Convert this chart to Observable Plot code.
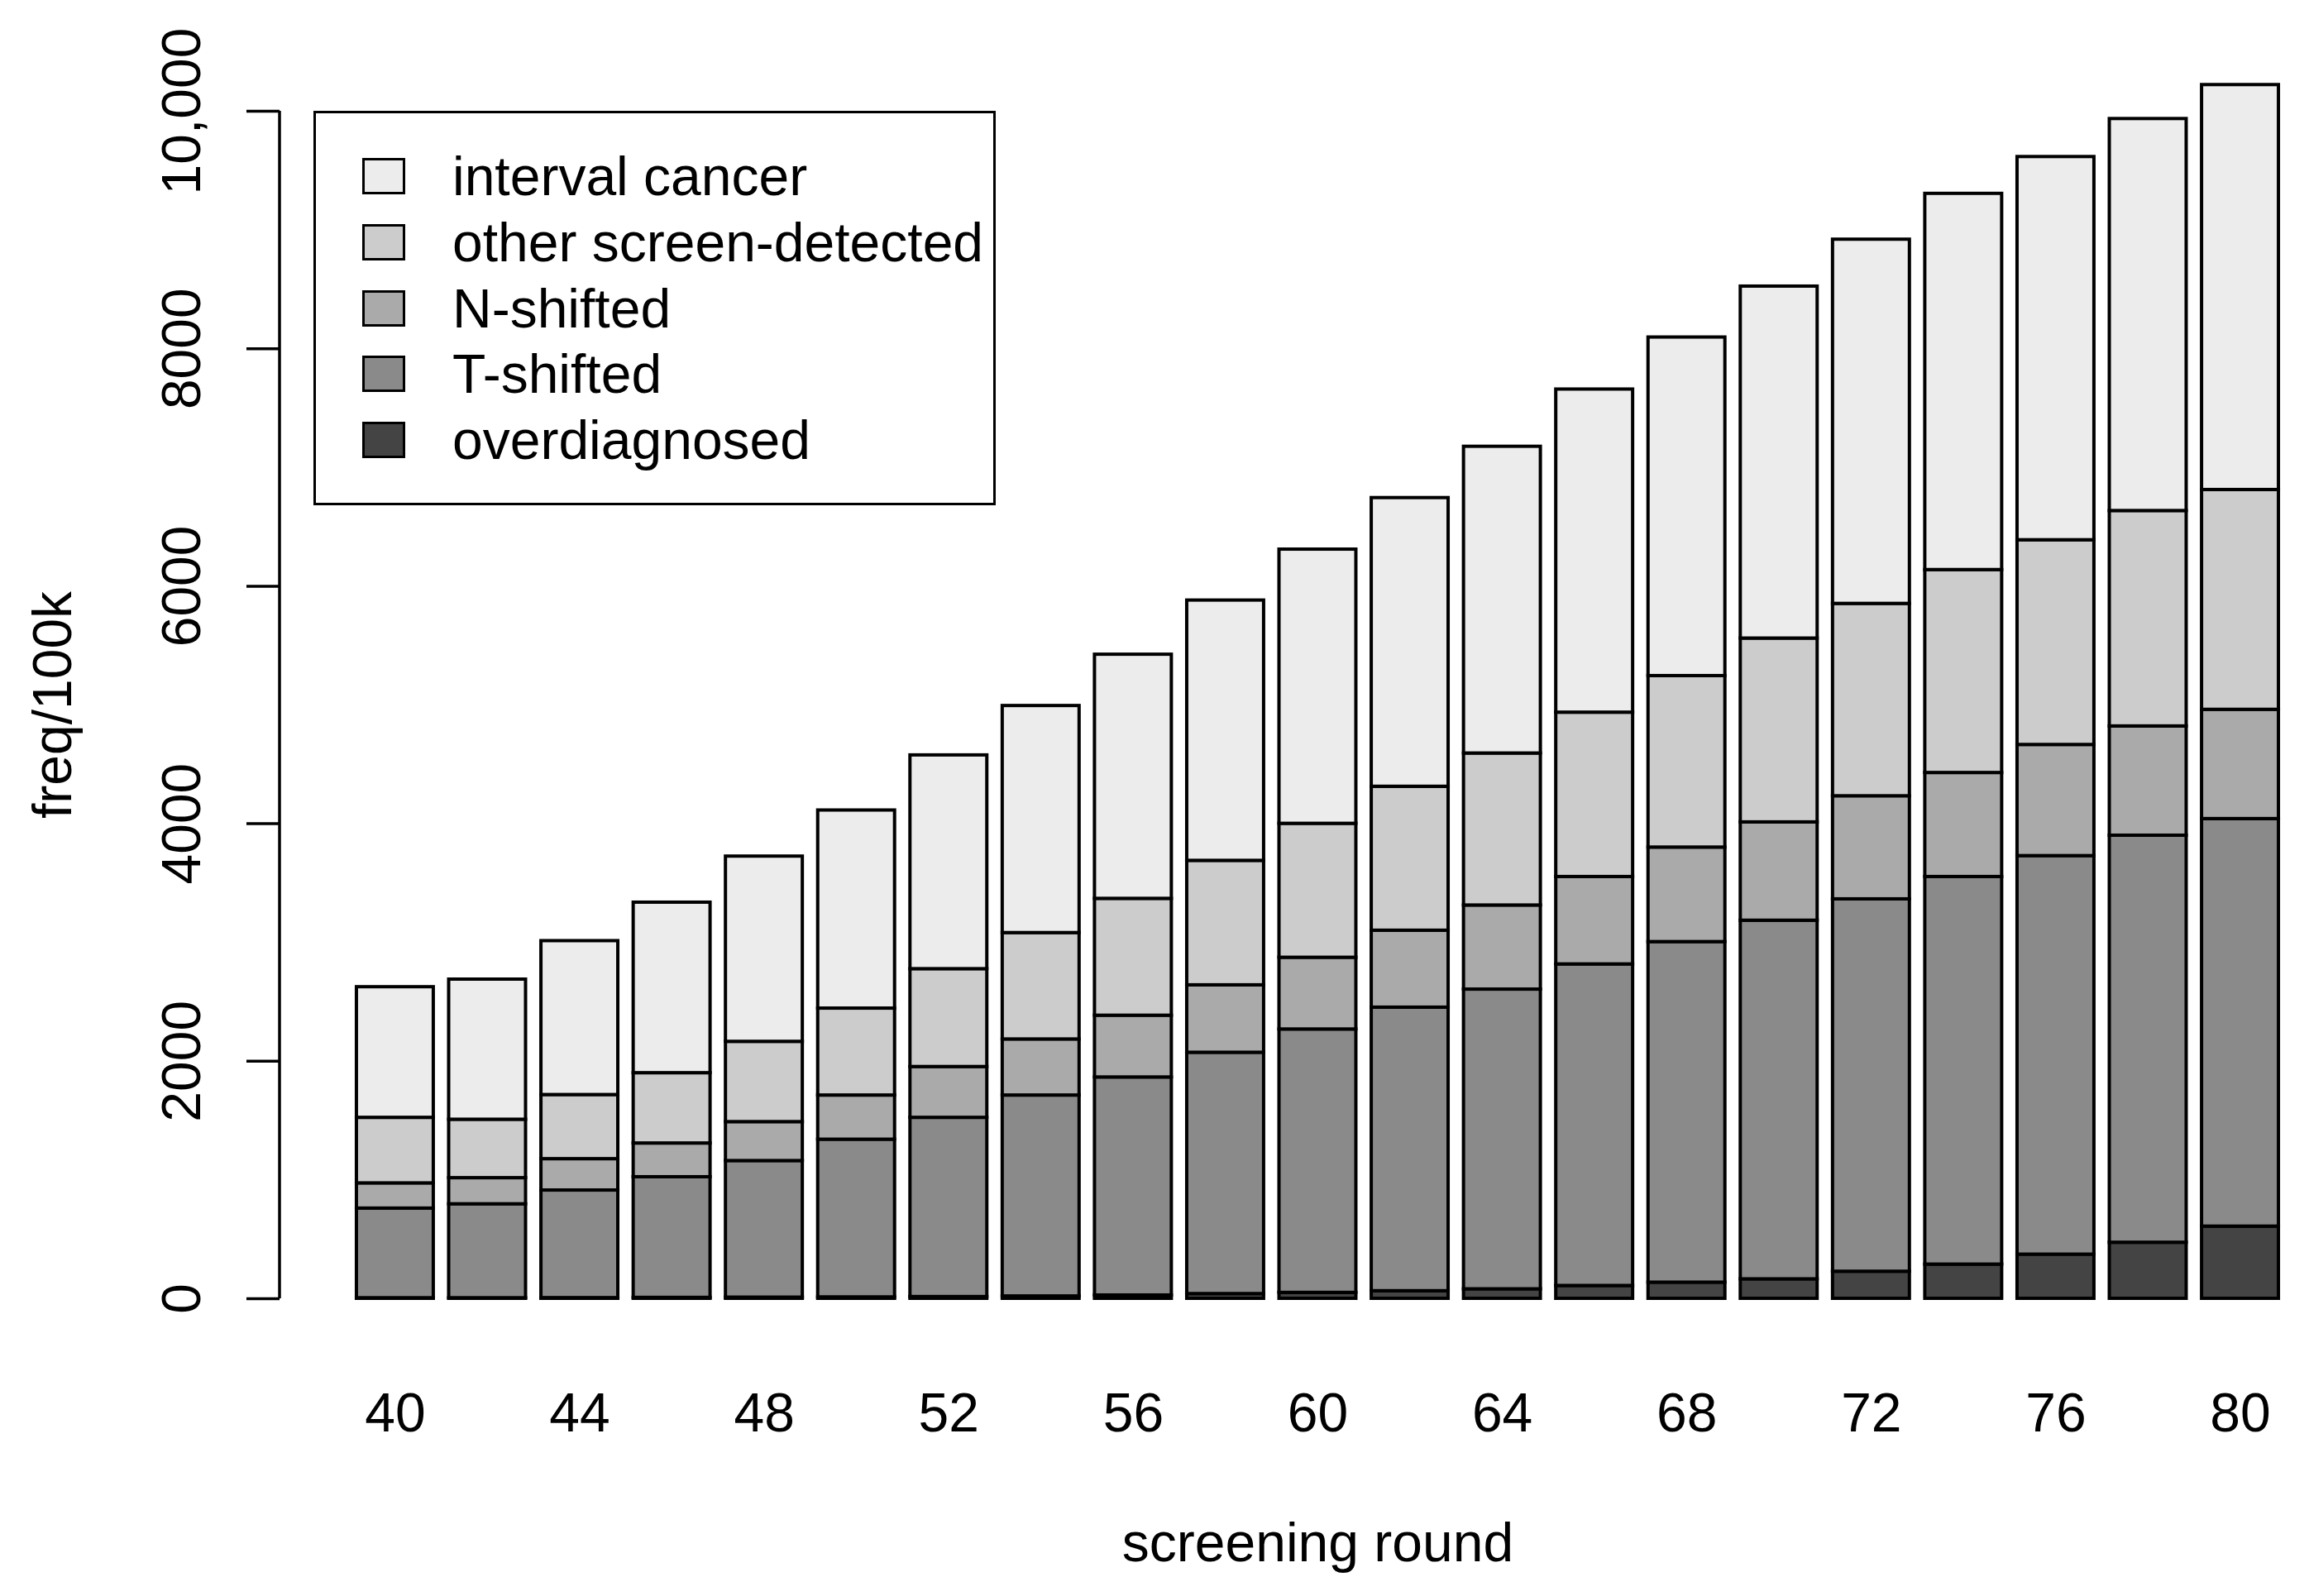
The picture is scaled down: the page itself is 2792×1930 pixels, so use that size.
<!DOCTYPE html>
<html><head><meta charset="utf-8">
<script src="https://cdn.jsdelivr.net/npm/d3@7"></script>
<script src="https://cdn.jsdelivr.net/npm/@observablehq/plot@0.6"></script>
<style>
html,body{margin:0;padding:0;background:#fff;overflow:hidden}
#wrap{position:relative;width:2792px;height:1930px}
#legend{position:absolute;left:379px;top:134px;width:819px;height:471px;border:3px solid #000;background:#fff;font-family:"Liberation Sans",Arial,sans-serif;font-size:66px;color:#000}
.item{position:absolute;left:56px;height:80px;display:flex;align-items:center;white-space:nowrap}
.sw{width:46px;height:38px;border:3px solid #000;margin-right:57px;box-sizing:content-box}
</style></head>
<body>
<div id="wrap"><div id="chart"></div><div id="legend"></div></div>
<script>
const rounds = [40,42,44,46,48,50,52,54,56,58,60,62,64,66,68,70,72,74,76,78,80];
const overdiagnosed = [5,5,6,8,10,12,15,20,28,40,50,64,80,108,136,164,228,288,372,472,608];
const tShifted = [755,791,906,1016,1150,1328,1509,1692,1836,2032,2218,2388,2524,2708,2868,3020,3136,3264,3356,3428,3432];
const nShifted = [212,220,264,284,328,372,428,472,520,568,604,648,708,736,796,828,868,876,936,920,920];
const otherScreen = [552,492,540,592,676,732,824,896,984,1048,1128,1212,1280,1384,1444,1548,1620,1709,1724,1814,1851];
const intervalCancer = [1100,1180,1296,1436,1560,1668,1800,1912,2056,2192,2309,2431,2583,2721,2851,2964,3067,3168,3227,3301,3410];

const categories = ["overdiagnosed","T-shifted","N-shifted","other screen-detected","interval cancer"];
const colors = ["#444444","#8a8a8a","#aaaaaa","#cccccc","#ececec"];
const series = [overdiagnosed, tShifted, nShifted, otherScreen, intervalCancer];

const yTicks = [0,2000,4000,6000,8000,10000];
const yTickLabels = ["0","2000","4000","6000","8000","10,000"];
const xTicks = [40,44,48,52,56,60,64,68,72,76,80];

const table = rounds.flatMap((r,i) => series.map((s,j) => ({round:r, category:categories[j], value:s[i]})));

const axisLine = (index, scales, values, dims) => {
  const x0 = dims.marginLeft;
  return d3.create("svg:line")
    .attr("x1", x0).attr("x2", x0)
    .attr("y1", scales.y(yTicks[0])).attr("y2", scales.y(yTicks[yTicks.length-1]))
    .attr("stroke", "#000").attr("stroke-width", 3.5).node();
};

const chart = Plot.plot({
  width: 2792, height: 1930,
  marginLeft: 338, marginRight: 0, marginTop: 134, marginBottom: 360,
  style: {fontFamily: "Liberation Sans, Arial, sans-serif", fontSize: "66px", background: "#fff", color: "#000"},
  x: {type: "band", domain: rounds, range: [338, 2848], paddingInner: 1/6, paddingOuter: 5/6, round: false},
  y: {domain: [0, 10000]},
  color: {domain: categories, range: colors},
  marks: [
    Plot.barY(table, {x: "round", y: "value", fill: "category", stroke: "#000", strokeWidth: 4}),
    Plot.axisY({ticks: yTicks, tickSize: 40, tickPadding: 57, tickRotate: -90,
      tickFormat: d => yTickLabels[yTicks.indexOf(d)], fontSize: 66, strokeWidth: 3.5, label: null}),
    Plot.axisX({ticks: xTicks, tickSize: 0, tickPadding: 114, fontSize: 66, label: null}),
    axisLine,
    Plot.text(["freq/100k"], {text: d => d, frameAnchor: "left", dx: -274, rotate: -90, fontSize: 66, lineAnchor: "middle", textAnchor: "middle"}),
    Plot.text(["screening round"], {text: d => d, frameAnchor: "bottom", dy: 296, dx: 28, fontSize: 66, lineAnchor: "middle"})
  ]
});
document.getElementById("chart").appendChild(chart);

const legend = document.getElementById("legend");
const legendOrder = categories.slice().reverse();
const legendColors = colors.slice().reverse();
const itemTops = [36,116,196,275,355];
legendOrder.forEach((c,i) => {
  const item = document.createElement("div");
  item.className = "item";
  item.style.top = itemTops[i] + "px";
  const sw = document.createElement("div");
  sw.className = "sw";
  sw.style.background = legendColors[i];
  const t = document.createElement("span");
  t.textContent = c;
  item.appendChild(sw); item.appendChild(t);
  legend.appendChild(item);
});
</script>
</body></html>
